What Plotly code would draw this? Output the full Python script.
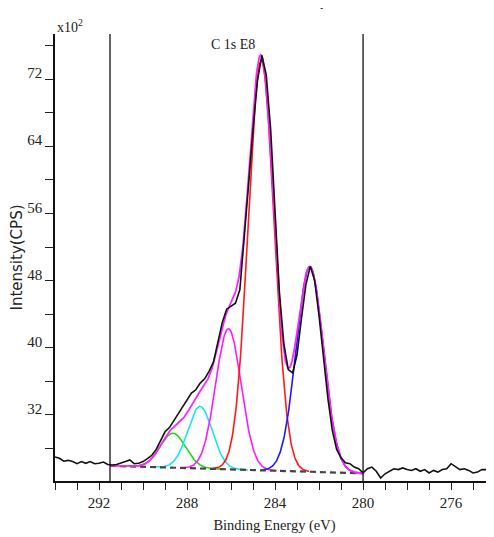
import numpy as np
import plotly.graph_objects as go

# ---------------- data (intensity in units of x10^2 CPS) ----------------
binding_energy = [
    294.0, 293.8, 293.6, 293.4, 293.2, 293.0, 292.8, 292.6, 292.4, 292.2,
    292.0, 291.8, 291.6, 291.4, 291.2, 291.0, 290.8, 290.6, 290.4, 290.2,
    290.0, 289.8, 289.6, 289.4, 289.2, 289.0, 288.8, 288.6, 288.4, 288.2,
    288.0, 287.8, 287.6, 287.4, 287.2, 287.0, 286.8, 286.6, 286.4, 286.2,
    286.0, 285.8, 285.6, 285.4, 285.2, 285.0, 284.8, 284.6, 284.4, 284.2,
    284.0, 283.8, 283.6, 283.4, 283.2, 283.0, 282.8, 282.6, 282.4, 282.2,
    282.0, 281.8, 281.6, 281.4, 281.2, 281.0, 280.8, 280.6, 280.4, 280.2,
    280.0, 279.8, 279.6, 279.4, 279.2, 279.0, 278.8, 278.6, 278.4, 278.2,
    278.0, 277.8, 277.6, 277.4, 277.2, 277.0, 276.8, 276.6, 276.4, 276.2,
    276.0, 275.8, 275.6, 275.4, 275.2, 275.0, 274.8, 274.6, 274.4, 274.2,
    274.0,
]
intensity = [
    27.0, 26.85, 26.5, 26.6, 26.45, 26.2, 26.45, 26.25, 26.45, 26.2,
    26.25, 26.4, 26.1, 26.05, 26.1, 26.25, 26.45, 26.65, 26.2, 26.25,
    26.45, 26.8, 27.2, 27.9, 28.9, 30.0, 30.5, 31.3, 32.2, 32.9,
    33.8, 34.6, 35.0, 35.8, 36.3, 37.2, 38.3, 40.6, 43.0, 44.6,
    44.9, 45.3, 46.9, 52.8, 59.5, 66.0, 71.8, 74.8, 72.5, 66.0,
    55.5, 46.5, 40.5, 37.4, 37.0, 39.2, 43.5, 47.5, 49.7, 48.0,
    43.8, 38.9, 34.0, 30.2, 27.9, 26.9, 26.3, 26.2, 25.8, 25.6,
    25.1, 25.6, 25.8, 25.3, 24.5, 25.0, 25.3, 25.6, 25.5, 25.7,
    25.5, 25.4, 25.6, 25.3, 25.5, 25.1, 25.4, 25.2, 25.5, 25.6,
    26.2, 25.9, 25.5, 25.6, 25.4, 25.1, 25.2, 25.5, 25.5, 25.7,
    25.6,
]

# fitted components (Gaussian peak parameters)
peak_centers = [288.64, 287.41, 286.12, 284.63, 282.42]
peak_heights = [4.1, 7.4, 16.75, 48.8, 24.4]
peak_fwhm = [1.36, 1.32, 1.36, 1.38, 1.45]
peak_colors = ["#1ed81e", "#19e6ee", "#ff19ff", "#ff1a1a", "#1a1aff"]

# linear background and fit region
baseline_be = [291.5, 280.0]
baseline_int = [25.95, 25.05]
region_bounds = [291.5, 280.0]

x_tick_vals = [292, 288, 284, 280, 276]
y_tick_vals = [32, 40, 48, 56, 64, 72]

# ---------------- figure ----------------
def baseline(x):
    return np.interp(x, baseline_be[::-1], baseline_int[::-1])


def gauss(x, c, h, w):
    s = w / 2.3548
    return h * np.exp(-((x - c) ** 2) / (2 * s * s))


xf = np.linspace(region_bounds[0], region_bounds[1], 461)
fig = go.Figure()

env = baseline(xf) + sum(gauss(xf, c, h, w) for c, h, w in zip(peak_centers, peak_heights, peak_fwhm))

for c, h, w, col in zip(peak_centers, peak_heights, peak_fwhm, peak_colors):
    m = np.abs(xf - c) <= 2.2
    xs = xf[m]
    fig.add_trace(go.Scatter(x=xs, y=baseline(xs) + gauss(xs, c, h, w), mode="lines",
                             line=dict(color=col, width=1.6), hoverinfo="skip", showlegend=False))

fig.add_trace(go.Scatter(x=baseline_be, y=baseline_int, mode="lines",
                         line=dict(color="#444444", width=2.2, dash="6px,4px"),
                         showlegend=False))

fig.add_trace(go.Scatter(x=xf, y=env, mode="lines",
                         line=dict(color="#ff22ff", width=1.8), showlegend=False))

fig.add_trace(go.Scatter(x=binding_energy, y=intensity, mode="lines",
                         line=dict(color="#111111", width=1.6), showlegend=False))

for b in region_bounds:
    fig.add_vline(x=b, line=dict(color="#111111", width=1.3))

tick_font = dict(family="Liberation Serif, Times New Roman, serif", size=15, color="#222222")

fig.update_xaxes(
    range=[294.0, 274.05], tickvals=x_tick_vals, ticktext=[str(v) for v in x_tick_vals],
    ticks="outside", ticklen=7, tickwidth=1.2, tickcolor="#222222",
    minor=dict(dtick=1, tick0=0, ticks="outside", ticklen=7, tickwidth=1.2, tickcolor="#222222"),
    showline=True, linecolor="#111111", linewidth=1.5, showgrid=False, zeroline=False,
    tickfont=tick_font, automargin=False,
    title=dict(text="Binding Energy (eV)",
               font=dict(family="Liberation Serif, serif", size=14.5, color="#222222"), standoff=10),
)
fig.update_yaxes(
    range=[24.14, 77.36], tickvals=y_tick_vals, ticktext=[str(v) for v in y_tick_vals],
    ticks="outside", ticklen=8, tickwidth=1.2, tickcolor="#222222",
    minor=dict(dtick=4, tick0=0, ticks="outside", ticklen=8, tickwidth=1.2, tickcolor="#222222"),
    showline=True, linecolor="#111111", linewidth=1.5, showgrid=False, zeroline=False,
    tickfont=tick_font, automargin=False, ticklabelshift=-6, ticklabelstandoff=0,
    title=dict(text="Intensity(CPS)", font=dict(family="DejaVu Sans, sans-serif",
                                                 size=15, color="#222222"), standoff=5),
)

# page body has an 8px margin: size the figure so the plot area lands where the reference has it
fig.update_layout(
    width=486, height=529,
    margin=dict(l=47, r=0, t=26, b=56),
    paper_bgcolor="white", plot_bgcolor="white",
    showlegend=False,
    shapes=[
        dict(type="line", xref="paper", yref="paper", x0=0, x1=1, y0=1, y1=1,
             line=dict(color="#8a8a8a", width=2.5)),
        dict(type="circle", xref="paper", yref="paper", x0=0.490, x1=0.497, y0=1.056, y1=1.063,
             fillcolor="#222222", line=dict(width=0)),
        dict(type="circle", xref="paper", yref="paper", x0=0.604, x1=0.611, y0=1.056, y1=1.063,
             fillcolor="#222222", line=dict(width=0)),
    ],
    annotations=[
        dict(text="C 1s E8", xref="x", yref="paper", x=285.9, y=0.997, xanchor="center", yanchor="top",
             showarrow=False, font=dict(family="Liberation Serif, serif", size=14, color="#222222")),
        dict(text="x10<sup>2</sup>", xref="paper", yref="paper", x=0, y=1.0, xanchor="left", yanchor="bottom",
             yshift=-3, showarrow=False, font=dict(family="Liberation Serif, serif", size=14, color="#222222")),
    ],
)

fig.write_html("out.html")
